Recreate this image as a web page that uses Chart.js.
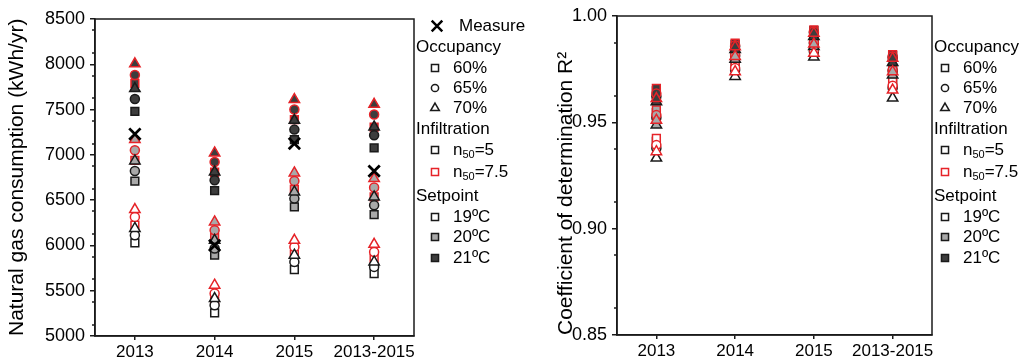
<!DOCTYPE html>
<html>
<head>
<meta charset="utf-8">
<script src="https://cdn.jsdelivr.net/npm/chart.js@4.4.1/dist/chart.umd.min.js"></script>
<style>
  html, body { margin: 0; padding: 0; background: #fff; }
  #wrap { position: relative; width: 1035px; height: 362px; overflow: hidden; }
  canvas { position: absolute; top: 0; }
  #gas { left: 0; }
  #r2 { left: 535px; }
</style>
</head>
<body>
<div id="wrap">
  <canvas id="gas" width="535" height="362"></canvas>
  <canvas id="r2" width="500" height="362"></canvas>
</div>
<script>
// ---- data: one value per period ----
const categories = ['2013', '2014', '2015', '2013-2015'];
const measured = [7230, 6000, 7125, 6820];

// Natural gas consumption (kWh/yr), infiltration n50=5
const gas_n5_19_occ60 = [6027, 5255, 5734, 5690];
const gas_n5_19_occ65 = [6113, 5340, 5818, 5763];
const gas_n5_19_occ70 = [6187, 5414, 5892, 5818];
const gas_n5_20_occ60 = [6709, 5892, 6425, 6341];
const gas_n5_20_occ65 = [6822, 5966, 6517, 6444];
const gas_n5_20_occ70 = [6933, 6057, 6590, 6535];
const gas_n5_21_occ60 = [7481, 6606, 7169, 7076];
const gas_n5_21_occ65 = [7617, 6720, 7279, 7216];
const gas_n5_21_occ70 = [7732, 6811, 7382, 7308];
// Natural gas consumption (kWh/yr), infiltration n50=7.5
const gas_n75_19_occ60 = [6223, 5385, 5900, 5855];
const gas_n75_19_occ65 = [6315, 5469, 5984, 5928];
const gas_n75_19_occ70 = [6396, 5561, 6057, 6013];
const gas_n75_20_occ60 = [6940, 6090, 6620, 6536];
const gas_n75_20_occ65 = [7051, 6168, 6712, 6639];
const gas_n75_20_occ70 = [7169, 6260, 6800, 6738];
const gas_n75_21_occ60 = [7790, 6808, 7390, 7305];
const gas_n75_21_occ65 = [7882, 6922, 7500, 7445];
const gas_n75_21_occ70 = [8005, 7021, 7610, 7558];

// Coefficient of determination R², infiltration n50=5
const r2_n5_19_occ60 = [0.9410, 0.9764, 0.9848, 0.9682];
const r2_n5_19_occ65 = [0.9378, 0.9746, 0.9832, 0.9662];
const r2_n5_19_occ70 = [0.9332, 0.9716, 0.9807, 0.9614];
const r2_n5_20_occ60 = [0.9546, 0.9820, 0.9881, 0.9750];
const r2_n5_20_occ65 = [0.9522, 0.9812, 0.9872, 0.9742];
const r2_n5_20_occ70 = [0.9488, 0.9797, 0.9856, 0.9722];
const r2_n5_21_occ60 = [0.9648, 0.9866, 0.9931, 0.9814];
const r2_n5_21_occ65 = [0.9622, 0.9857, 0.9922, 0.9805];
const r2_n5_21_occ70 = [0.9597, 0.9842, 0.9904, 0.9781];
// Coefficient of determination R², infiltration n50=7.5
const r2_n75_19_occ60 = [0.9425, 0.9772, 0.9856, 0.9692];
const r2_n75_19_occ65 = [0.9393, 0.9755, 0.9840, 0.9672];
const r2_n75_19_occ70 = [0.9362, 0.9738, 0.9825, 0.9652];
const r2_n75_20_occ60 = [0.9558, 0.9826, 0.9885, 0.9755];
const r2_n75_20_occ65 = [0.9534, 0.9818, 0.9877, 0.9746];
const r2_n75_20_occ70 = [0.9510, 0.9810, 0.9868, 0.9738];
const r2_n75_21_occ60 = [0.9660, 0.9872, 0.9935, 0.9818];
const r2_n75_21_occ65 = [0.9635, 0.9863, 0.9927, 0.9810];
const r2_n75_21_occ70 = [0.9612, 0.9855, 0.9919, 0.9801];

const gasTicks = { min: 5000, max: 8500, step: 500 };
const r2Ticks = { min: 0.85, max: 1.00, step: 0.05 };

// ---- styling ----
const FONT = "Arial, 'Liberation Sans', sans-serif";
const BLACK = '#1a1a1a';
const RED = '#e62328';
const FILL = { 19: '#ffffff', 20: '#a9a9a9', 21: '#3d3d3d' };
const SHAPE = { occ60: 'rect', occ65: 'circle', occ70: 'triangle' };
const RADIUS = { rect: 5.5, circle: 4.5, triangle: 6 };

function buildDatasets(series) {
  // draw sequence: squares, circles, triangles; black before red
  const seq = [];
  ['occ60', 'occ65', 'occ70'].forEach(occ => {
    ['n5', 'n75'].forEach(inf => {
      [19, 20, 21].forEach(sp => {
        const style = SHAPE[occ];
        seq.push({
          data: categories.map((c, i) => ({ x: c, y: series[inf][sp][occ][i] })),
          pointStyle: style,
          pointRadius: RADIUS[style],
          pointBorderWidth: 1.5,
          pointBorderColor: inf === 'n5' ? BLACK : RED,
          pointBackgroundColor: FILL[sp],
          showLine: false
        });
      });
    });
  });
  return seq;
}

const gasSeries = {
  n5: {
    19: { occ60: gas_n5_19_occ60, occ65: gas_n5_19_occ65, occ70: gas_n5_19_occ70 },
    20: { occ60: gas_n5_20_occ60, occ65: gas_n5_20_occ65, occ70: gas_n5_20_occ70 },
    21: { occ60: gas_n5_21_occ60, occ65: gas_n5_21_occ65, occ70: gas_n5_21_occ70 }
  },
  n75: {
    19: { occ60: gas_n75_19_occ60, occ65: gas_n75_19_occ65, occ70: gas_n75_19_occ70 },
    20: { occ60: gas_n75_20_occ60, occ65: gas_n75_20_occ65, occ70: gas_n75_20_occ70 },
    21: { occ60: gas_n75_21_occ60, occ65: gas_n75_21_occ65, occ70: gas_n75_21_occ70 }
  }
};
const r2Series = {
  n5: {
    19: { occ60: r2_n5_19_occ60, occ65: r2_n5_19_occ65, occ70: r2_n5_19_occ70 },
    20: { occ60: r2_n5_20_occ60, occ65: r2_n5_20_occ65, occ70: r2_n5_20_occ70 },
    21: { occ60: r2_n5_21_occ60, occ65: r2_n5_21_occ65, occ70: r2_n5_21_occ70 }
  },
  n75: {
    19: { occ60: r2_n75_19_occ60, occ65: r2_n75_19_occ65, occ70: r2_n75_19_occ70 },
    20: { occ60: r2_n75_20_occ60, occ65: r2_n75_20_occ65, occ70: r2_n75_20_occ70 },
    21: { occ60: r2_n75_21_occ60, occ65: r2_n75_21_occ65, occ70: r2_n75_21_occ70 }
  }
};

// ---- plugins ----
const frame = {
  id: 'frame',
  afterDraw(chart) {
    const { ctx, chartArea: a } = chart;
    ctx.save();
    ctx.strokeStyle = BLACK;
    ctx.lineWidth = 1.5;
    ctx.strokeRect(a.left, a.top, a.right - a.left, a.bottom - a.top);
    ctx.restore();
  }
};

function minorTicks(step) {
  return {
    id: 'minorTicks',
    afterDraw(chart) {
      const y = chart.scales.y, ctx = chart.ctx;
      ctx.save();
      ctx.strokeStyle = BLACK;
      ctx.lineWidth = 1.5;
      for (let k = 0; y.min + (k + 0.5) * step < y.max; k++) {
        const py = Math.round(y.getPixelForValue(y.min + (k + 0.5) * step));
        ctx.beginPath();
        ctx.moveTo(y.right - 3, py);
        ctx.lineTo(y.right, py);
        ctx.stroke();
      }
      ctx.restore();
    }
  };
}

// side legend with group headings and subscripts
function sideLegend(layout) {
  const fontSize = 17;
  return {
    id: 'sideLegend',
    afterDraw(chart) {
      const ctx = chart.ctx;
      ctx.save();
      ctx.textBaseline = 'middle';
      ctx.textAlign = 'left';
      layout.rows.forEach(r => {
        ctx.fillStyle = '#000';
        ctx.font = `${fontSize}px ${FONT}`;
        if (r.heading) {
          ctx.fillText(r.heading, layout.headX, r.y);
          return;
        }
        const mx = r.markX !== undefined ? r.markX : layout.markX;
        const lw = r.lineWidth || 1.5;
        ctx.strokeStyle = r.stroke || BLACK;
        ctx.fillStyle = r.fill || '#ffffff';
        ctx.lineWidth = lw;
        Chart.helpers.drawPoint(ctx, { pointStyle: r.style, radius: r.radius, borderWidth: lw, rotation: 0 }, mx, r.y);
        let tx = r.textX !== undefined ? r.textX : layout.textX;
        ctx.fillStyle = '#000';
        r.parts.forEach(p => {
          if (p.sub) {
            ctx.font = `${Math.round(fontSize * 0.62)}px ${FONT}`;
            ctx.fillText(p.t, tx, r.y + 5);
          } else {
            ctx.font = `${fontSize}px ${FONT}`;
            ctx.fillText(p.t, tx, r.y);
          }
          tx += ctx.measureText(p.t).width;
        });
      });
      ctx.restore();
    }
  };
}

function legendRows(withMeasure) {
  const rows = [];
  if (withMeasure) rows.push({ style: 'crossRot', radius: 7.5, lineWidth: 2.5, stroke: '#000', parts: [{ t: 'Measure' }], y: 26, markX: 437, textX: 459 });
  rows.push({ heading: 'Occupancy', y: 47 });
  rows.push({ style: 'rect', radius: 5, parts: [{ t: '60%' }], y: 68 });
  rows.push({ style: 'circle', radius: 3.6, parts: [{ t: '65%' }], y: 88 });
  rows.push({ style: 'triangle', radius: 5, parts: [{ t: '70%' }], y: 108 });
  rows.push({ heading: 'Infiltration', y: 129 });
  rows.push({ style: 'rect', radius: 5, parts: [{ t: 'n' }, { t: '50', sub: true }, { t: '=5' }], y: 150 });
  rows.push({ style: 'rect', radius: 5, stroke: RED, parts: [{ t: 'n' }, { t: '50', sub: true }, { t: '=7.5' }], y: 172 });
  rows.push({ heading: 'Setpoint', y: 196 });
  rows.push({ style: 'rect', radius: 5, fill: FILL[19], parts: [{ t: '19ºC' }], y: 217 });
  rows.push({ style: 'rect', radius: 5, fill: FILL[20], parts: [{ t: '20ºC' }], y: 237 });
  rows.push({ style: 'rect', radius: 5, fill: FILL[21], parts: [{ t: '21ºC' }], y: 258 });
  return rows;
}

function makeOptions(cfg) {
  return {
    responsive: false,
    animation: false,
    devicePixelRatio: 1,
    layout: { padding: { left: 0, right: cfg.padRight, top: cfg.padTop, bottom: 0 } },
    plugins: {
      legend: { display: false },
      tooltip: { enabled: false }
    },
    scales: {
      x: {
        type: 'category',
        labels: categories,
        offset: true,
        grid: { drawOnChartArea: false, tickLength: 4, color: BLACK, lineWidth: 1.5 },
        border: { color: BLACK, width: 1.5 },
        ticks: { color: '#000', font: { family: FONT, size: 17 }, padding: 2, autoSkip: false, maxRotation: 0 },
        afterFit(s) { s.height = cfg.xHeight; }
      },
      y: {
        min: cfg.ticks.min,
        max: cfg.ticks.max,
        ticks: {
          stepSize: cfg.ticks.step,
          color: '#000',
          font: { family: FONT, size: 18 },
          padding: 5,
          callback: cfg.tickFmt
        },
        grid: { drawOnChartArea: false, tickLength: 5, color: BLACK, lineWidth: 1.5 },
        border: { color: BLACK, width: 1.5 },
        title: {
          display: true,
          text: cfg.title,
          color: '#000',
          align: 'start',
          font: { family: FONT, size: 21 },
          padding: { top: cfg.titlePad, bottom: 0 }
        },
        afterFit(s) { s.width = cfg.yWidth; }
      }
    }
  };
}

// ---- left panel: natural gas consumption ----
const gasDatasets = buildDatasets(gasSeries);
gasDatasets.push({
  data: categories.map((c, i) => ({ x: c, y: measured[i] })),
  pointStyle: 'crossRot',
  pointRadius: 8,
  pointBorderWidth: 2.8,
  pointBorderColor: '#000',
  pointBackgroundColor: '#000',
  showLine: false
});
new Chart(document.getElementById('gas'), {
  type: 'scatter',
  data: { datasets: gasDatasets.reverse() },
  options: makeOptions({
    padRight: 121, padTop: 19, xHeight: 26, yWidth: 95, titlePad: 5,
    ticks: gasTicks,
    tickFmt: v => String(v),
    title: 'Natural gas consumption (kWh/yr)'
  }),
  plugins: [frame, minorTicks(gasTicks.step / 2), sideLegend({ rows: legendRows(true), headX: 416, markX: 435, textX: 453 })]
});

// ---- right panel: coefficient of determination ----
new Chart(document.getElementById('r2'), {
  type: 'scatter',
  data: { datasets: buildDatasets(r2Series).reverse() },
  options: makeOptions({
    padRight: 103, padTop: 16, xHeight: 27, yWidth: 82, titlePad: 19,
    ticks: r2Ticks,
    tickFmt: v => Number(v).toFixed(2),
    title: 'Coefficient of determination R²'
  }),
  plugins: [frame, minorTicks(r2Ticks.step / 2), sideLegend({ rows: legendRows(false), headX: 399, markX: 410, textX: 428 })]
});
</script>
</body>
</html>
